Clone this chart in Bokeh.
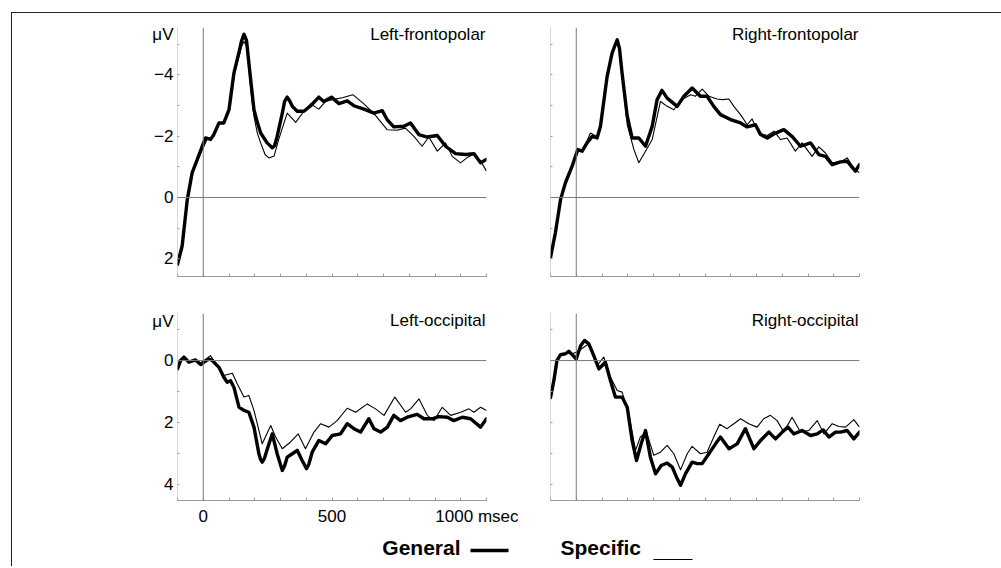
from bokeh.plotting import figure
from bokeh.layouts import column, row, Spacer
from bokeh.models import Range1d, FixedTicker, Span, Label
from bokeh.embed import file_html
from bokeh.resources import INLINE

FONT = "Liberation Sans"

# ---------------- data (time in ms, amplitude in microvolts; negative plotted up) -------------
T_RANGE = (-100, 1100)
X_LABEL_TICKS = [0, 500, 1000]
X_MINOR = [-100, 0, 100, 200, 300, 400, 500, 600, 700, 800, 900, 1000, 1100]
X_UNIT = "msec"
X_LABELS = {0: "0", 500: "500", 1000: "\u00a0" * 10 + "1000 " + X_UNIT}

Y_UNIT = "\u03bcV"
FRONT_RANGE = (2.575, -5.54)
FRONT_UNIT_POS = -5.3
FRONT_LABEL_TICKS = [-4, -2, 0, 2]
FRONT_MINOR = [-5, -4, -3, -2, -1, 0, 1, 2]
FRONT_LABELS = {-4: "\u22124", -2: "\u22122", 0: "0", 2: "2"}

OCC_RANGE = (4.52, -1.52)
OCC_UNIT_POS = -1.27
OCC_LABEL_TICKS = [0, 2, 4]
OCC_MINOR = [-1, 0, 1, 2, 3, 4]
OCC_LABELS = {0: "0", 2: "2", 4: "4"}

PANEL_TITLES = ["Left-frontopolar", "Right-frontopolar", "Left-occipital", "Right-occipital"]
SERIES_NAMES = ["General", "Specific"]

# Left-frontopolar
LF_GEN_T = [-100, -82, -62, -43, -23, -4, 9, 28, 41, 61, 80, 100, 119, 138, 148, 158, 168, 177, 186, 197,
            210, 223, 248, 268, 277, 287, 307, 316, 326, 337, 346, 365, 391, 417, 449, 468, 498, 527, 559,
            585, 624, 663, 695, 714, 740, 779, 805, 837, 870, 909, 941, 980, 1019, 1051, 1077, 1100]
LF_GEN_V = [2.18, 1.58, 0.07, -0.81, -1.24, -1.67, -1.94, -1.89, -2.05, -2.43, -2.43, -2.86, -4.05, -4.7,
            -5.08, -5.32, -5.12, -4.4, -3.7, -2.86, -2.45, -2.1, -1.78, -1.62, -1.69, -1.99, -2.75, -3.13,
            -3.27, -3.13, -2.97, -2.81, -2.81, -2.99, -3.27, -3.13, -3.27, -3.06, -3.15, -2.99, -2.88, -2.75,
            -2.83, -2.54, -2.3, -2.32, -2.43, -2.05, -1.97, -2.02, -1.67, -1.43, -1.4, -1.43, -1.13, -1.24]
LF_SPE_T = [-100, -82, -62, -43, -23, -4, 15, 30, 41, 61, 80, 100, 119, 138, 148, 158, 168, 177, 186, 197,
            210, 223, 240, 255, 275, 294, 326, 359, 391, 417, 449, 475, 501, 540, 581, 624, 663, 714, 753,
            785, 818, 850, 876, 909, 941, 967, 999, 1025, 1051, 1077, 1100]
LF_SPE_V = [2.18, 1.58, 0.07, -0.81, -1.2, -1.55, -1.9, -1.95, -2.0, -2.4, -2.45, -2.8, -3.95, -4.6, -4.9,
            -5.08, -4.95, -4.2, -3.4, -2.64, -2.1, -1.78, -1.4, -1.29, -1.35, -1.92, -2.75, -2.45, -2.81,
            -3.05, -2.88, -3.13, -3.19, -3.25, -3.35, -3.05, -2.73, -2.21, -2.19, -2.26, -1.99, -1.67, -1.97,
            -1.51, -1.78, -1.34, -1.13, -1.3, -1.41, -1.19, -0.86]

# Right-frontopolar
RF_GEN_T = [-100, -81, -61, -42, -16, 6, 23, 42, 62, 81, 94, 120, 139, 150, 159, 168, 178, 198, 217, 243,
            269, 295, 314, 333, 353, 392, 418, 450, 482, 508, 534, 560, 599, 638, 664, 696, 716, 742, 774,
            806, 838, 871, 910, 942, 968, 994, 1026, 1052, 1084, 1100]
RF_GEN_V = [1.96, 1.15, 0.07, -0.48, -1.02, -1.56, -1.51, -1.78, -1.99, -1.94, -2.32, -3.95, -4.7, -4.95,
            -5.14, -4.85, -4.05, -2.65, -1.94, -1.94, -1.67, -2.32, -3.19, -3.49, -3.24, -2.97, -3.3, -3.57,
            -3.3, -3.3, -2.97, -2.7, -2.54, -2.43, -2.3, -2.37, -2.05, -1.94, -2.1, -2.21, -1.99, -1.67,
            -1.78, -1.4, -1.34, -1.07, -1.16, -1.18, -0.86, -1.07]
RF_SPE_T = [-100, -81, -61, -42, -16, 6, 23, 42, 55, 81, 94, 120, 139, 150, 159, 168, 178, 198, 224, 243,
            269, 295, 327, 353, 379, 411, 444, 463, 489, 515, 547, 567, 593, 612, 638, 664, 683, 709, 742,
            768, 793, 819, 851, 877, 916, 942, 968, 994, 1026, 1052, 1078, 1100]
RF_SPE_V = [1.96, 1.15, 0.07, -0.48, -1.02, -1.5, -1.55, -1.85, -2.1, -1.98, -2.3, -3.9, -4.65, -4.9,
            -5.08, -4.8, -4.0, -2.37, -1.56, -1.13, -1.51, -1.89, -3.13, -2.97, -2.86, -3.19, -3.35, -3.3,
            -3.53, -3.3, -3.21, -3.19, -3.21, -2.97, -2.7, -2.37, -2.56, -2.1, -2.02, -2.16, -1.89, -1.94,
            -1.51, -1.78, -1.34, -1.65, -1.45, -1.13, -1.16, -1.29, -0.96, -0.8]

# Left-occipital
LO_GEN_T = [-100, -88, -75, -56, -30, -10, 3, 22, 35, 61, 80, 93, 106, 119, 139, 158, 177, 197, 216, 223,
            229, 238, 249, 268, 287, 307, 316, 326, 346, 365, 384, 401, 410, 423, 449, 475, 501, 533, 559,
            585, 611, 643, 663, 689, 715, 740, 766, 792, 831, 857, 889, 915, 948, 973, 1006, 1038, 1077, 1100]
LO_GEN_V = [0.27, 0.0, -0.11, 0.05, -0.02, 0.13, 0.05, -0.05, 0.0, 0.22, 0.54, 0.7, 0.65, 0.86, 1.51, 1.61,
            1.67, 2.15, 3.01, 3.2, 3.28, 3.15, 2.85, 2.37, 3.01, 3.55, 3.4, 3.12, 3.01, 2.9, 3.23, 3.49,
            3.35, 2.96, 2.58, 2.69, 2.42, 2.37, 2.04, 2.2, 2.31, 1.88, 2.2, 2.31, 2.15, 1.77, 1.94, 1.83,
            1.74, 1.88, 1.88, 1.81, 1.83, 1.94, 1.83, 1.88, 2.15, 1.88]
LO_SPE_T = [-100, -88, -75, -56, -30, -10, 3, 28, 54, 80, 113, 132, 158, 177, 197, 229, 262, 281, 307, 339,
            369, 397, 430, 456, 488, 520, 559, 592, 637, 669, 702, 744, 786, 805, 838, 870, 896, 928, 961,
            1000, 1032, 1051, 1077, 1100]
LO_SPE_V = [0.27, 0.02, -0.08, 0.03, 0.0, 0.08, 0.0, -0.16, 0.16, 0.48, 0.41, 0.75, 1.18, 1.13, 1.61, 2.69,
            2.1, 2.47, 2.85, 2.63, 2.37, 2.85, 2.31, 2.04, 2.15, 1.94, 1.54, 1.67, 1.4, 1.56, 1.77, 1.18,
            1.67, 1.56, 1.24, 1.77, 1.94, 1.51, 1.77, 1.67, 1.56, 1.67, 1.51, 1.61]

# Right-occipital
RO_GEN_T = [-100, -87, -75, -61, -42, -29, -16, 0, 17, 32, 49, 68, 88, 101, 113, 133, 152, 178, 198, 217,
            234, 252, 269, 288, 308, 330, 353, 373, 389, 405, 424, 450, 470, 489, 515, 541, 560, 593, 625,
            657, 690, 716, 748, 774, 800, 822, 845, 877, 910, 936, 959, 981, 1007, 1026, 1052, 1078, 1100]
RO_GEN_V = [1.2, 0.65, 0.0, -0.19, -0.22, -0.3, -0.19, -0.05, -0.48, -0.65, -0.54, -0.16, 0.27, 0.16, 0.05,
            0.65, 1.18, 1.18, 1.51, 2.58, 3.23, 2.69, 2.26, 3.12, 3.66, 3.39, 3.31, 3.44, 3.76, 4.03, 3.66,
            3.28, 3.33, 3.33, 3.01, 2.69, 2.47, 2.85, 2.69, 2.2, 2.85, 2.58, 2.31, 2.53, 2.31, 2.15, 2.37,
            2.26, 2.42, 2.37, 2.24, 2.47, 2.31, 2.31, 2.26, 2.53, 2.31]
RO_SPE_T = [-100, -87, -75, -61, -42, -29, -16, 0, 29, 49, 68, 81, 107, 133, 159, 178, 204, 230, 249, 273,
            301, 327, 353, 379, 405, 431, 450, 482, 508, 534, 557, 586, 612, 638, 670, 702, 728, 754, 780,
            806, 838, 871, 903, 936, 962, 994, 1020, 1046, 1078, 1100]
RO_SPE_V = [1.2, 0.65, 0.0, -0.17, -0.2, -0.25, -0.22, -0.27, -0.43, -0.54, -0.2, 0.16, -0.11, 0.54, 0.97,
            1.02, 1.72, 2.9, 2.47, 2.31, 3.06, 2.96, 2.74, 3.01, 3.53, 3.01, 2.77, 3.01, 2.96, 2.47, 2.06,
            2.2, 2.04, 1.88, 2.04, 2.15, 1.88, 1.77, 1.94, 2.31, 1.83, 2.31, 2.26, 1.94, 2.37, 2.04, 2.13,
            2.15, 1.91, 2.15]

# ---------------- styling ----------------
AXIS_COL = "#9a9a9a"
ZERO_COL = "#7a7a7a"
GEN_W = 3.4
SPE_W = 1.1


def make_panel(title, gt, gv, st, sv, yr, ylab_ticks, ymin, ylabels, unit_pos, show_y, show_x,
               width, height, mbl, mbr, mbt, mbb, title_off):
    p = figure(width=width, height=height, x_range=Range1d(*T_RANGE), y_range=Range1d(*yr),
               output_backend="svg", toolbar_location=None,
               min_border_left=mbl, min_border_right=mbr, min_border_top=mbt, min_border_bottom=mbb)
    p.xgrid.visible = False
    p.ygrid.visible = False
    p.outline_line_color = None
    p.background_fill_color = "white"
    p.border_fill_color = None

    xa = p.xaxis[0]
    xa.ticker = FixedTicker(ticks=X_LABEL_TICKS if show_x else [], minor_ticks=X_MINOR)
    xa.axis_line_color = AXIS_COL
    xa.major_tick_line_color = None
    xa.minor_tick_line_color = AXIS_COL
    xa.major_tick_in = 0
    xa.major_tick_out = 0
    xa.minor_tick_in = 3
    xa.minor_tick_out = 0
    xa.major_label_overrides = X_LABELS
    xa.major_label_text_font = FONT
    xa.major_label_text_color = "black"
    xa.major_label_standoff = 6
    xa.major_label_text_font_size = "17px"

    ya = p.yaxis[0]
    if show_y:
        labels = dict(ylabels)
        labels[unit_pos] = Y_UNIT
        ya.ticker = FixedTicker(ticks=[unit_pos] + ylab_ticks, minor_ticks=ymin)
        ya.major_label_overrides = labels
    else:
        ya.ticker = FixedTicker(ticks=[], minor_ticks=ymin)
    ya.axis_line_color = "#b0b0b0"
    ya.axis_line_dash = "1 1"
    ya.major_tick_line_color = None
    ya.minor_tick_line_color = AXIS_COL
    ya.major_tick_in = 0
    ya.major_tick_out = 0
    ya.minor_tick_in = 2
    ya.minor_tick_out = 0
    ya.major_label_text_font = FONT
    ya.major_label_text_color = "black"
    ya.major_label_standoff = 4
    ya.major_label_text_font_size = "17px"

    p.add_layout(Span(location=0, dimension="width", line_color=ZERO_COL, line_width=1))
    p.add_layout(Span(location=0, dimension="height", line_color=ZERO_COL, line_width=1))

    p.line(st, sv, line_color="black", line_width=SPE_W, line_join="round")
    p.line(gt, gv, line_color="black", line_width=GEN_W, line_join="round", line_cap="round")

    p.add_layout(Label(x=T_RANGE[1], y=yr[1], x_offset=-1, y_offset=-title_off, text=title,
                       text_align="right", text_baseline="alphabetic", text_font=FONT,
                       text_font_size="17px", text_color="black"))
    return p


tl = make_panel(PANEL_TITLES[0], LF_GEN_T, LF_GEN_V, LF_SPE_T, LF_SPE_V, FRONT_RANGE, FRONT_LABEL_TICKS,
                FRONT_MINOR, FRONT_LABELS, FRONT_UNIT_POS, True, False, 506, 281, 165, 32, 14, 18, 7)
tr = make_panel(PANEL_TITLES[1], RF_GEN_T, RF_GEN_V, RF_SPE_T, RF_SPE_V, FRONT_RANGE, FRONT_LABEL_TICKS,
                FRONT_MINOR, FRONT_LABELS, FRONT_UNIT_POS, False, False, 363, 281, 32, 22, 14, 18, 7)
bl = make_panel(PANEL_TITLES[2], LO_GEN_T, LO_GEN_V, LO_SPE_T, LO_SPE_V, OCC_RANGE, OCC_LABEL_TICKS,
                OCC_MINOR, OCC_LABELS, OCC_UNIT_POS, True, True, 506, 234, 165, 32, 19, 28, 7)
br = make_panel(PANEL_TITLES[3], RO_GEN_T, RO_GEN_V, RO_SPE_T, RO_SPE_V, OCC_RANGE, OCC_LABEL_TICKS,
                OCC_MINOR, OCC_LABELS, OCC_UNIT_POS, False, False, 363, 234, 32, 22, 19, 28, 7)

# legend strip (pixel-like coordinates, y downwards)
LW, LH = 989, 38
leg = figure(width=LW, height=LH, x_range=Range1d(0, LW), y_range=Range1d(LH, 0),
             output_backend="svg", toolbar_location=None,
             min_border_left=0, min_border_right=0, min_border_top=0, min_border_bottom=0)
leg.axis.visible = False
leg.xgrid.visible = False
leg.ygrid.visible = False
leg.outline_line_color = None
leg.border_fill_color = None
leg.add_layout(Label(x=448, y=18.5, text=SERIES_NAMES[0], text_align="right", text_baseline="alphabetic",
                     text_font=FONT, text_font_style="bold", text_font_size="21px", text_color="black"))
leg.segment(x0=[458], y0=[22], x1=[496], y1=[22], line_color="black", line_width=GEN_W)
leg.add_layout(Label(x=548, y=18.5, text=SERIES_NAMES[1], text_align="left", text_baseline="alphabetic",
                     text_font=FONT, text_font_style="bold", text_font_size="21px", text_color="black"))
leg.segment(x0=[641], y0=[31], x1=[680], y1=[31], line_color="black", line_width=SPE_W)

SP_W = LW - 506 - 363
layout = column(
    row(tl, tr, Spacer(width=SP_W, height=281), spacing=0),
    row(bl, br, Spacer(width=SP_W, height=234), spacing=0),
    leg,
    spacing=0,
    margin=(12, 0, 0, 11),
    styles={"border-top": "1px solid #222", "border-left": "1px solid #222"},
)

open("out.html", "w").write(file_html(layout, INLINE))
